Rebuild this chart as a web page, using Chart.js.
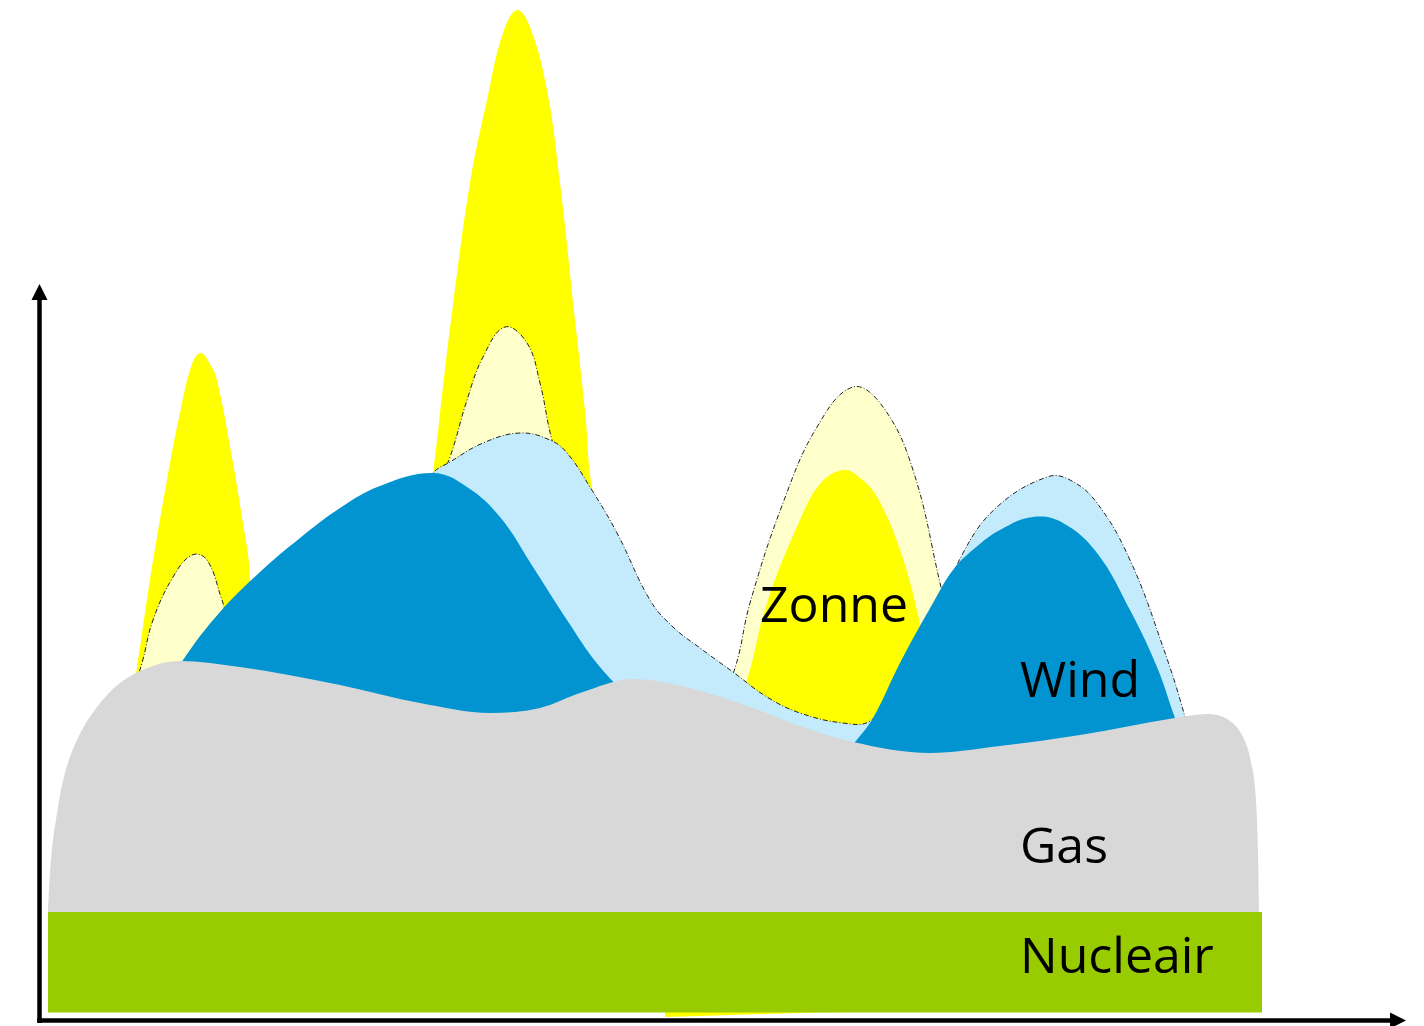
<!DOCTYPE html>
<html>
<head>
<meta charset="utf-8">
<script src="https://cdn.jsdelivr.net/npm/chart.js@4.4.1/dist/chart.umd.min.js"></script>
<style>
html,body{margin:0;padding:0;background:#fff;}
#wrap{width:1424px;height:1026px;position:relative;}
canvas{display:block;}
</style>
</head>
<body>
<div id="wrap"><canvas id="c" width="1424" height="1026"></canvas></div>
<script>
// ---- data (x = time units, y = power units) ----
const nuclearX = [0.8, 122.2];
const nuclearY = [10.8, 10.8];

const gasX = [0.8, 1.0, 1.8, 2.5, 3.7, 5.7, 8.0, 11.0, 14.0, 20.0, 30.0, 38.0, 45.0, 50.0, 54.0, 59.3, 65.0, 71.0, 76.0, 81.3, 89.0, 96.0, 104.0, 113.5, 116.7, 119.0, 120.3, 121.1, 121.6, 121.8, 121.9];
const gasY = [11.0, 14.7, 21.3, 24.7, 28.0, 31.3, 33.7, 35.3, 35.9, 35.3, 33.5, 31.7, 30.7, 31.2, 32.7, 34.1, 33.2, 31.3, 29.4, 27.8, 26.7, 27.4, 28.5, 30.2, 30.6, 29.9, 28.3, 25.8, 22.0, 17.0, 11.0];

const windX = [12.0, 14.3, 18.0, 22.0, 26.0, 30.0, 34.0, 39.3, 42.7, 46.0, 49.3, 52.7, 56.0, 59.0, 66.0, 75.0, 79.5, 81.5, 83.3, 86.0, 89.3, 91.3, 93.5, 96.0, 99.3, 102.3, 105.7, 109.0, 111.7, 113.5, 115.5];
const windY = [32.0, 36.0, 40.8, 44.8, 48.2, 51.2, 53.4, 54.7, 53.3, 50.3, 45.3, 40.0, 35.3, 32.5, 28.5, 25.5, 25.5, 27.8, 30.2, 35.7, 41.7, 45.0, 47.2, 49.0, 50.3, 49.7, 46.7, 41.0, 35.3, 30.2, 25.0];

const windPotX = [36.0, 39.3, 41.0, 44.3, 48.0, 51.0, 52.7, 55.0, 57.7, 61.0, 63.3, 66.0, 69.3, 72.7, 76.0, 80.3, 83.0, 86.0, 89.3, 92.3, 95.7, 100.7, 103.0, 105.7, 109.0, 112.3, 114.5, 116.0];
const windPotY = [50.0, 54.7, 55.8, 57.7, 58.7, 58.0, 56.7, 53.3, 48.7, 42.0, 39.3, 37.2, 34.8, 32.3, 30.7, 29.7, 29.9, 33.5, 39.5, 46.7, 51.3, 54.3, 54.0, 51.7, 46.0, 37.3, 30.3, 24.0];

const solarPotX = [9.0, 10.2, 11.3, 13.3, 15.2, 16.7, 18.2, 20.0, 26.0, 36.0, 39.5, 41.0, 42.7, 44.3, 46.5, 48.7, 50.0, 51.2, 52.5, 56.0, 61.0, 66.0, 68.2, 69.5, 71.0, 74.3, 77.7, 81.3, 84.3, 87.3, 90.0, 91.5];
const solarPotY = [32.0, 35.7, 40.0, 44.3, 46.5, 46.0, 42.0, 37.0, 37.0, 46.0, 53.0, 56.3, 62.0, 66.3, 69.3, 67.7, 63.7, 58.0, 54.5, 47.5, 39.5, 35.2, 33.0, 35.2, 41.7, 51.7, 59.3, 63.3, 61.3, 55.0, 43.7, 37.0];

const solarAX = [8.8, 9.7, 11.0, 12.7, 14.0, 15.2, 16.1, 17.0, 17.7, 19.3, 20.7, 22.0, 26.0, 36.0, 38.5, 39.3, 40.3, 41.3, 43.0, 44.7, 46.3, 47.7, 49.0, 50.7, 52.0, 53.5, 54.5, 55.2, 57.0];
const solarAY = [30.0, 35.3, 44.0, 54.0, 60.7, 65.6, 66.7, 65.6, 64.0, 55.7, 47.3, 40.0, 38.0, 45.0, 50.0, 54.7, 63.3, 71.5, 83.7, 92.0, 98.7, 101.0, 99.3, 93.0, 83.7, 70.0, 61.0, 53.3, 46.0];

const solarBX = [62.5, 66.0, 69.0, 70.7, 72.7, 76.0, 78.0, 80.3, 82.0, 83.7, 86.0, 88.0, 89.5, 91.0];
const solarBY = [2.0, 15.0, 30.0, 34.0, 41.7, 50.0, 53.6, 55.0, 54.2, 52.3, 47.0, 39.7, 32.0, 25.0];
const solarBBaseY = [0.3, 0.4, 0.5, 0.55, 0.6, 0.7, 0.75, 0.8, 0.8, 0.8, 0.8, 0.8, 0.8, 0.8];

const labelNames = ['Zonne', 'Wind', 'Gas', 'Nucleair'];

// ---- styling / layout (not data) ----
const labelPos = [[72.0, 39.8], [98.0, 32.3], [98.0, 15.7], [98.0, 4.7]];
const yAxisTip = 73.6;
const xAxisTip = 136.6;

const pts = (xs, ys) => xs.map((x, i) => ({x: x, y: ys[i]}));
const dash = [5, 2, 1, 2];

const smooth = {pointRadius: 0, pointHoverRadius: 0, tension: 0.4};
const mono = {pointRadius: 0, pointHoverRadius: 0, cubicInterpolationMode: 'monotone'};

const datasets = [
  Object.assign({}, smooth, {label: 'Nucleair', data: pts(nuclearX, nuclearY), order: 0, tension: 0,
    backgroundColor: '#99CC00', borderWidth: 0, borderColor: 'transparent', fill: {value: 0.75}}),
  Object.assign({}, mono, {label: 'Gas', data: pts(gasX, gasY), order: 1,
    backgroundColor: '#D8D8D8', borderWidth: 0, borderColor: 'transparent', fill: {value: 10.8}}),
  Object.assign({}, smooth, {label: 'Wind', data: pts(windX, windY), order: 2,
    backgroundColor: '#0294D1', borderWidth: 0, borderColor: 'transparent', fill: {value: 10.8}}),
  Object.assign({}, smooth, {label: 'Wind potentieel', data: pts(windPotX, windPotY), order: 3,
    backgroundColor: '#C4EBFC', borderWidth: 1, borderColor: '#222', borderDash: dash, fill: {value: 10.8}}),
  Object.assign({}, smooth, {label: 'Zonne B', data: pts(solarBX, solarBY), order: 4,
    backgroundColor: '#FFFF00', borderWidth: 0, borderColor: 'transparent', fill: 7}),
  Object.assign({}, smooth, {label: 'Zonne potentieel', data: pts(solarPotX, solarPotY), order: 5,
    backgroundColor: '#FFFFCC', borderWidth: 1, borderColor: '#222', borderDash: dash, fill: {value: 10.8}}),
  Object.assign({}, smooth, {label: 'Zonne A', data: pts(solarAX, solarAY), order: 6,
    backgroundColor: '#FFFF00', borderWidth: 0, borderColor: 'transparent', fill: {value: 10.8}}),
  Object.assign({}, smooth, {label: 'base', data: pts(solarBX, solarBBaseY), order: 7, tension: 0,
    backgroundColor: 'transparent', borderWidth: 0, borderColor: 'transparent', fill: false})
];

const overlay = {
  id: 'overlay',
  afterDatasetsDraw(chart) {
    const ctx = chart.ctx;
    const xs = chart.scales.x, ys = chart.scales.y;
    const x0 = xs.getPixelForValue(0) - 0.5;
    const y0 = ys.getPixelForValue(0) + 0.5;
    const yTop = ys.getPixelForValue(yAxisTip);
    const xEnd = xs.getPixelForValue(xAxisTip);
    ctx.save();
    ctx.strokeStyle = '#000';
    ctx.fillStyle = '#000';
    ctx.lineWidth = 4.5;
    ctx.lineCap = 'butt';
    ctx.beginPath();
    ctx.moveTo(x0, y0 + 2.5);
    ctx.lineTo(x0, yTop + 14);
    ctx.stroke();
    ctx.beginPath();
    ctx.moveTo(x0 - 2.2, y0);
    ctx.lineTo(xEnd - 14, y0);
    ctx.stroke();
    ctx.beginPath();
    ctx.moveTo(x0, yTop);
    ctx.lineTo(x0 - 8, yTop + 16);
    ctx.lineTo(x0 + 8, yTop + 16);
    ctx.closePath();
    ctx.fill();
    ctx.beginPath();
    ctx.moveTo(xEnd, y0);
    ctx.lineTo(xEnd - 16, y0 - 8);
    ctx.lineTo(xEnd - 16, y0 + 8);
    ctx.closePath();
    ctx.fill();
    ctx.font = '50px "Open Sans", "Noto Sans", sans-serif';
    ctx.textAlign = 'left';
    ctx.textBaseline = 'alphabetic';
    labelNames.forEach((t, i) => {
      ctx.fillText(t, xs.getPixelForValue(labelPos[i][0]), ys.getPixelForValue(labelPos[i][1]));
    });
    ctx.restore();
  }
};

new Chart(document.getElementById('c'), {
  type: 'line',
  data: {datasets: datasets},
  options: {
    responsive: false,
    animation: false,
    events: [],
    layout: {padding: {left: 40, right: 19, top: 0, bottom: 6}},
    plugins: {legend: {display: false}, tooltip: {enabled: false}, filler: {propagate: false}},
    scales: {
      x: {type: 'linear', min: 0, max: 136.5, display: false},
      y: {type: 'linear', min: 0, max: 102, display: false}
    }
  },
  plugins: [overlay]
});
</script>
</body>
</html>
